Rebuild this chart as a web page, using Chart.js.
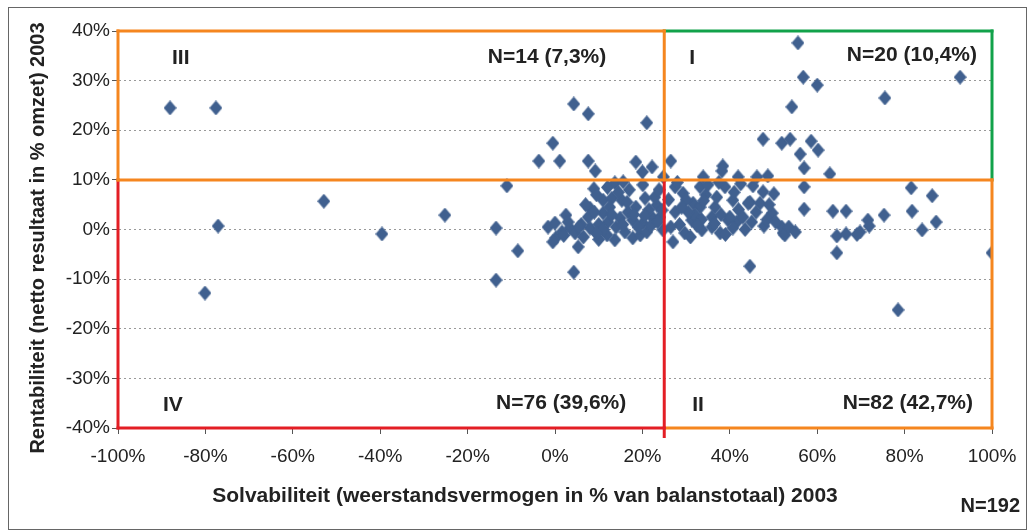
<!DOCTYPE html>
<html>
<head>
<meta charset="utf-8">
<script src="https://cdn.jsdelivr.net/npm/chart.js@4.4.0/dist/chart.umd.min.js"></script>
<style>
    html, body { margin: 0; padding: 0; background: #fff; }
    #wrap { width: 1030px; height: 531px; position: relative; }
</style>
</head>
<body>
<div id="wrap"><canvas id="chart"></canvas></div>
<script>
// ----- Data (percent values) -----
// Solvabiliteit (x) and rentabiliteit (y), one pair per company
const solvabiliteit = [
    // kwadrant III
    -88.1, -77.6, 4.3, 7.6, 21.0, -0.5, -3.7, 1.1, 7.6, 9.2, 18.5, 22.2, 20.0, 24.8,
    // kwadrant I
    26.5, 55.6, 56.8, 60.0, 92.7, 75.5, 54.2, 47.6, 51.9, 53.8, 58.6, 60.2, 56.1, 57.0, 62.9, 38.4, 38.2, 33.9, 41.9, 46.2, 48.7,
    // kwadrant IV
    -77.1, -80.1, -52.9, -39.6, -25.2, -13.5, -13.5, -11.0, -8.5, 4.3, 5.3,
    -1.6, 0.0, 0.2, 2.5, 1.6, 3.4, 4.6, 8.9, 8.0, 7.6, 8.0, 11.0, 13.0, 13.7, 15.6, 15.3,
    11.0, 12.1, 11.9, 13.7, 14.9, 16.7, 17.8, 17.8, 19.5, 20.1, 20.6, 20.1, 22.4, 23.3, 24.5, 24.7,
    -0.5, 6.0, 9.5, 10.0, 12.5, 14.0, 16.0, 18.5, 21.5, 22.8, 23.8, 24.0, 19.0, 10.0, 6.5, 9.0, 14.5, 17.0, 21.0, 3.0,
    12.0, 15.5, 18.0, 20.5, 22.0, 23.5, 11.0, 7.0, 13.0, 16.5, 5.5, 9.5, 2.0,
    // kwadrant II
    81.5, 86.3, 81.7, 87.2, 84.0, 75.3, 71.6, 69.8, 71.9, 66.6, 63.6, 64.5, 66.6, 64.5, 100.0, 57.0, 57.0,
    52.2, 51.9, 47.8, 49.7, 50.1, 47.6, 45.3, 44.6, 45.0, 44.6, 40.7, 41.6, 39.6, 37.8, 36.6, 35.9, 38.9,
    33.2, 31.6, 33.2, 31.3, 33.6, 29.7, 29.3, 27.5, 27.0, 27.5, 35.9, 30.0, 28.5, 44.2, 46.9, 37.0, 40.0,
    40.7, 48.5, 52.6, 69.1, 78.5, 42.5, 34.5, 32.0, 26.0, 26.5, 30.5, 38.0, 42.0, 43.5, 46.0, 35.0, 28.0,
    31.0, 36.5, 39.0, 50.5, 53.5, 55.0, 33.5, 41.0, 29.0, 49.0, 37.5, 43.0, 34.0, 32.5
];
const rentabiliteit = [
    // kwadrant III
    24.5, 24.5, 25.3, 23.3, 21.5, 17.4, 13.8, 13.8, 13.8, 11.8, 13.6, 12.6, 11.6, 10.6,
    // kwadrant I
    13.8, 37.6, 30.7, 29.1, 30.7, 26.5, 24.7, 18.2, 17.4, 18.2, 17.8, 16.0, 15.2, 12.4, 11.2, 12.8, 11.8, 10.6, 10.6, 10.6, 10.8,
    // kwadrant IV
    0.7, -12.8, 5.7, -0.9, 2.9, 0.3, -10.2, 8.8, -4.3, -8.6, -3.5,
    0.5, 1.3, -1.7, 2.9, -0.5, 0.3, -0.7, 8.2, 4.3, 2.5, 0.3, 5.9, 6.3, 9.4, 9.6, 5.9,
    3.3, 1.5, -1.1, -2.1, 2.3, 3.5, 1.9, -1.7, -1.1, 9.0, 6.3, 1.3, 2.3, 4.9, 3.9, -0.1,
    -2.5, 1.0, 7.0, 1.0, 4.5, 0.5, -0.5, 4.5, 4.0, 6.5, 8.0, 2.5, 0.5, -2.0, -1.5, 3.5, 7.5, 8.0, -0.5, 1.5,
    8.5, 1.0, 3.0, 2.8, 0.8, 1.5, 0.0, 5.0, 3.0, 5.5, 0.5, -0.8, -1.2,
    // kwadrant II
    8.4, 6.8, 3.7, 1.5, -0.1, 2.9, 1.9, -0.5, 0.7, 3.7, 3.7, -1.3, -0.9, -4.7, -4.7, 4.1, 8.6,
    -0.7, 0.5, 0.7, 3.3, 7.2, 7.6, 8.8, 5.5, 1.5, -7.4, 5.9, 1.5, 1.9, -0.7, 4.5, 2.5, 8.6,
    8.6, 5.3, 4.5, 1.9, -0.1, -0.7, 7.3, 3.5, -2.5, 8.6, 0.5, 6.0, 1.0, 5.3, 5.3, 6.5, 2.5,
    0.3, 2.0, -1.1, -1.0, -16.2, 9.2, 7.0, 3.0, 6.0, 0.5, 3.5, 3.0, 4.0, 0.0, 3.5, 9.0, 9.5,
    -1.5, 1.2, -1.0, 1.5, 0.5, -0.5, 2.0, 7.5, 4.5, 5.0, 9.5, 2.5, 5.8, 0.8
];
const xTickValues = [-100, -80, -60, -40, -20, 0, 20, 40, 60, 80, 100];
const yTickValues = [-40, -30, -20, -10, 0, 10, 20, 30, 40];

// quadrant split lines (%)
const splitX = 25;
const splitY = 10;
const quadrantNames = ['III', 'I', 'IV', 'II'];
const quadrantCounts = ['N=14 (7,3%)', 'N=20 (10,4%)', 'N=76 (39,6%)', 'N=82 (42,7%)'];

const xTitle = 'Solvabiliteit (weerstandsvermogen in % van balanstotaal) 2003';
const yTitle = 'Rentabiliteit (netto resultaat in % omzet) 2003';
const totalLabel = 'N=192';

// ----- Colours -----
const ORANGE = '#F5861F';
const GREEN = '#12A24A';
const RED = '#E31E25';
const POINT = '#40608F';
const TEXT = '#222';
const FONT = '"Liberation Sans", Arial, sans-serif';

// diamond marker (a bit taller than wide)
const diamond = document.createElement('canvas');
diamond.width = 13;
diamond.height = 15;
(function () {
    const c = diamond.getContext('2d');
    c.fillStyle = POINT;
    c.beginPath();
    c.moveTo(6.5, 0);
    c.lineTo(13, 7.5);
    c.lineTo(6.5, 15);
    c.lineTo(0, 7.5);
    c.closePath();
    c.fill();
})();

const points = solvabiliteit.map((x, i) => ({ x: x, y: rentabiliteit[i] }));

// ----- Quadrants, labels and titles -----
const quadrantPlugin = {
    id: 'quadrants',
    afterDatasetsDraw(chart) {
        const ctx = chart.ctx;
        const xs = chart.scales.x, ys = chart.scales.y;
        const L = xs.getPixelForValue(xs.min), R = xs.getPixelForValue(xs.max);
        const T = ys.getPixelForValue(ys.max), B = ys.getPixelForValue(ys.min);
        const mx = xs.getPixelForValue(splitX), my = ys.getPixelForValue(splitY);

        function line(x1, y1, x2, y2, color) {
            ctx.beginPath();
            ctx.moveTo(x1, y1);
            ctx.lineTo(x2, y2);
            ctx.strokeStyle = color;
            ctx.stroke();
        }

        ctx.save();
        ctx.lineWidth = 3;
        ctx.lineCap = 'square';
        // green (I)
        line(mx, T, R, T, GREEN);
        line(R, T, R, my, GREEN);
        // orange (II)
        line(R, my, R, B, ORANGE);
        line(mx, B, R, B, ORANGE);
        // red (IV)
        line(L, my, L, B, RED);
        line(L, B, mx, B, RED);
        // orange (III)
        line(L, T, mx, T, ORANGE);
        line(L, T, L, my, ORANGE);
        line(mx, T, mx, my, ORANGE);
        ctx.lineCap = 'butt';
        line(mx, my, mx, B + 10, RED);
        ctx.lineCap = 'square';
        line(L, my, R, my, ORANGE);
        ctx.restore();

        ctx.save();
        ctx.fillStyle = TEXT;
        ctx.font = 'bold 21px ' + FONT;
        ctx.textBaseline = 'middle';
        ctx.textAlign = 'left';
        ctx.fillText(quadrantNames[0], L + 54, T + 27);
        ctx.fillText(quadrantNames[1], mx + 25, T + 27);
        ctx.fillText(quadrantNames[2], L + 45, B - 23);
        ctx.fillText(quadrantNames[3], mx + 28, B - 23);
        ctx.textAlign = 'right';
        ctx.fillText(quadrantCounts[0], mx - 58, T + 26);
        ctx.fillText(quadrantCounts[1], R - 15, T + 24);
        ctx.fillText(quadrantCounts[2], mx - 38, B - 25);
        ctx.fillText(quadrantCounts[3], R - 19, B - 25);
        ctx.restore();
    },
    afterDraw(chart) {
        const ctx = chart.ctx;
        ctx.save();
        ctx.fillStyle = TEXT;
        ctx.textBaseline = 'middle';
        ctx.textAlign = 'center';
        ctx.font = 'bold 21px ' + FONT;
        ctx.fillText(xTitle, 525, 496);
        ctx.font = 'bold 20px ' + FONT;
        ctx.textAlign = 'right';
        ctx.fillText(totalLabel, 1020, 506);
        ctx.translate(38, 238);
        ctx.rotate(-Math.PI / 2);
        ctx.textAlign = 'center';
        ctx.fillText(yTitle, 0, 0);
        ctx.restore();

        // frame round the picture
        ctx.save();
        ctx.strokeStyle = '#666';
        ctx.lineWidth = 1;
        ctx.strokeRect(8.5, 7.5, 1018, 522);
        ctx.restore();
    }
};

const ctx = document.getElementById('chart').getContext('2d');
new Chart(ctx, {
    type: 'scatter',
    data: {
        datasets: [{
            label: 'Bedrijven',
            data: points,
            pointStyle: diamond,
            pointRadius: 6,
            pointHoverRadius: 6
        }]
    },
    options: {
        responsive: true,
        maintainAspectRatio: false,
        animation: false,
        layout: { padding: { top: 31, right: 38, left: 0, bottom: 0 } },
        plugins: {
            legend: { display: false },
            tooltip: { enabled: false },
            title: { display: false }
        },
        scales: {
            x: {
                type: 'linear',
                min: -100,
                max: 100,
                afterBuildTicks: s => { s.ticks = xTickValues.map(v => ({ value: v })); },
                afterFit: s => { s.height = 103; },
                ticks: {
                    callback: v => v + '%',
                    color: TEXT,
                    font: { family: FONT, size: 19 },
                    padding: 11,
                    maxRotation: 0,
                    autoSkip: false
                },
                grid: { drawOnChartArea: false, tickLength: 6, tickColor: '#555' },
                border: { display: true, color: '#555' }
            },
            y: {
                type: 'linear',
                min: -40,
                max: 40,
                afterBuildTicks: s => { s.ticks = yTickValues.map(v => ({ value: v })); },
                afterFit: s => { s.width = 118; },
                ticks: {
                    callback: v => v + '%',
                    color: TEXT,
                    font: { family: FONT, size: 19 },
                    padding: 2,
                    autoSkip: false
                },
                grid: { color: '#999', tickLength: 6, tickColor: '#555', tickBorderDash: [] },
                border: { display: true, color: '#555', dash: [2, 3] }
            }
        }
    },
    plugins: [quadrantPlugin]
});
</script>
</body>
</html>
